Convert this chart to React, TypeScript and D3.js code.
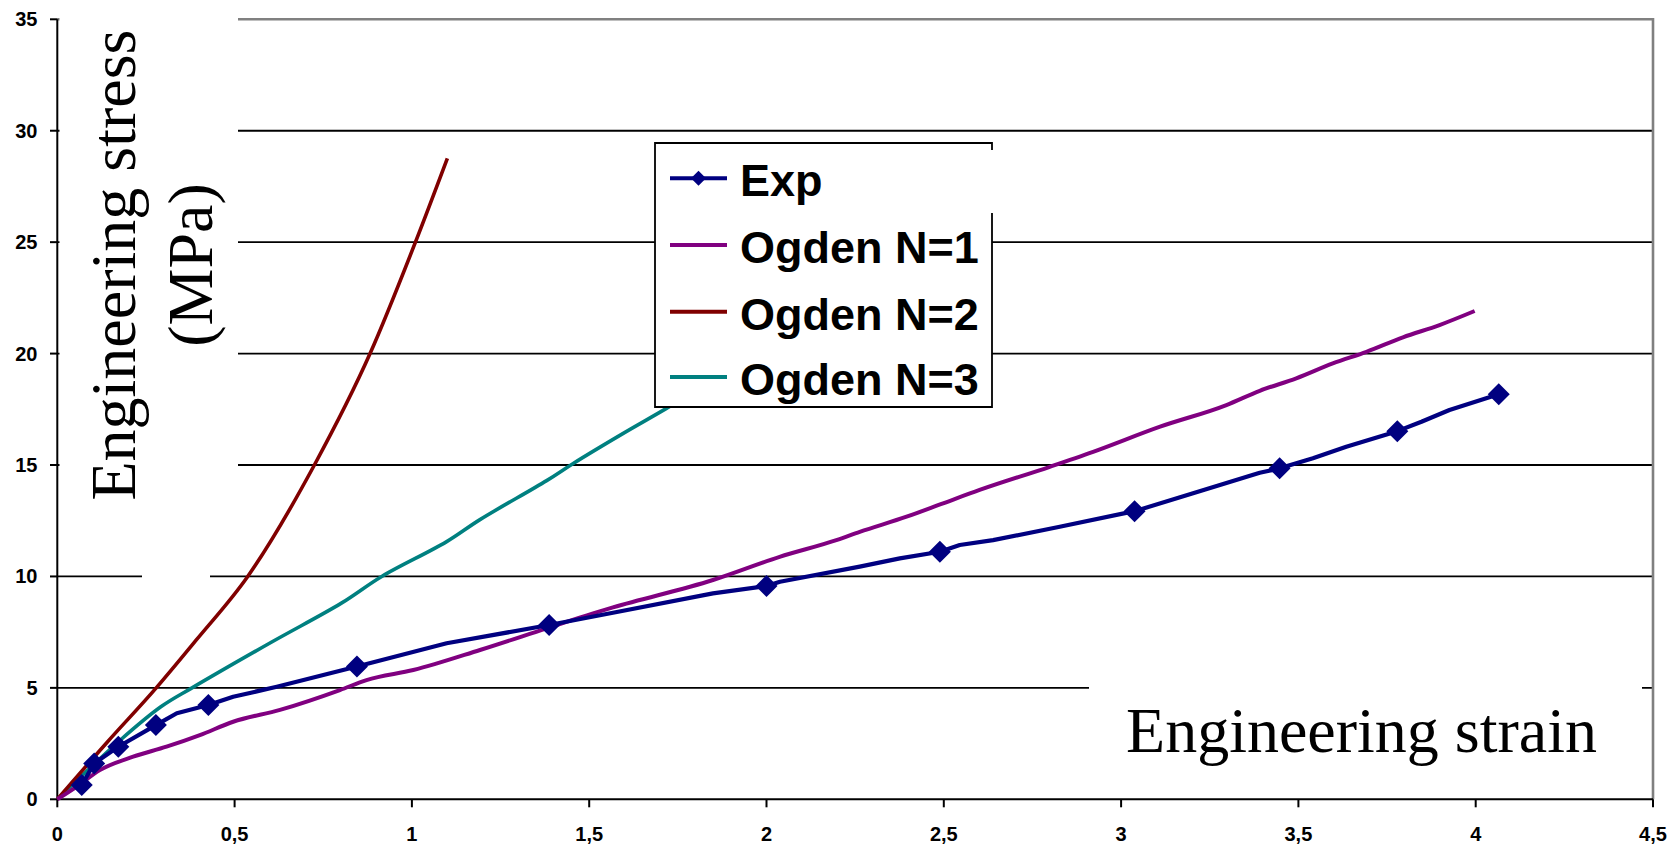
import React from "react";
import * as d3 from "d3";

type Pt = [number, number];

const xTicks = [0, 0.5, 1, 1.5, 2, 2.5, 3, 3.5, 4, 4.5];
const yTicks = [0, 5, 10, 15, 20, 25, 30, 35];
const xTickLabels = ["0", "0,5", "1", "1,5", "2", "2,5", "3", "3,5", "4", "4,5"];
const yTickLabels = ["0", "5", "10", "15", "20", "25", "30", "35"];

const seriesNames = ["Exp", "Ogden N=1", "Ogden N=2", "Ogden N=3"];
const seriesColors = ["#000080", "#800080", "#800000", "#008080"];

const expMarkers: Pt[] = [
  [0.069, 0.64], [0.104, 1.61], [0.172, 2.36], [0.278, 3.33], [0.426, 4.23],
  [0.845, 5.96], [1.387, 7.82], [2.0, 9.57], [2.489, 11.11], [3.038, 12.93],
  [3.447, 14.85], [3.779, 16.52], [4.065, 18.18],
];

const expCurve: Pt[] = [
  [0.069, 0.64], [0.104, 1.61], [0.172, 2.36], [0.278, 3.33], [0.337, 3.86], [0.426, 4.23],
  [0.496, 4.6], [0.619, 5.05], [0.845, 5.96], [1.098, 7.0], [1.387, 7.82], [1.567, 8.37],
  [1.849, 9.24], [2.0, 9.57], [2.038, 9.76], [2.263, 10.44], [2.376, 10.81], [2.489, 11.11],
  [2.545, 11.41], [2.639, 11.63], [2.827, 12.23], [3.038, 12.93], [3.203, 13.73], [3.391, 14.65],
  [3.447, 14.85], [3.541, 15.3], [3.635, 15.82], [3.779, 16.52], [3.847, 16.94], [3.926, 17.47],
  [4.065, 18.18],
];

const ogden1: Pt[] = [
  [0, 0], [0.055, 0.57], [0.12, 1.31], [0.214, 1.91], [0.308, 2.36], [0.402, 2.88],
  [0.496, 3.48], [0.628, 4.01], [0.797, 4.9], [0.872, 5.35], [1.004, 5.8], [1.192, 6.7],
  [1.38, 7.67], [1.511, 8.34], [1.567, 8.61], [1.849, 9.84], [2.037, 10.88], [2.197, 11.63],
  [2.263, 12.0], [2.395, 12.68], [2.498, 13.28], [2.601, 13.88], [2.799, 14.92], [2.921, 15.59],
  [3.11, 16.72], [3.297, 17.69], [3.391, 18.33], [3.494, 18.89], [3.597, 19.56], [3.692, 20.08],
  [3.795, 20.73], [3.898, 21.28], [3.997, 21.91],
];

const ogden2: Pt[] = [
  [0, 0], [0.14, 2.55], [0.279, 5.0], [0.392, 7.15], [0.537, 10.0], [0.725, 15.0],
  [0.882, 20.0], [1.01, 25.0], [1.1, 28.76],
];

const ogden3: Pt[] = [
  [0, 0], [0.178, 2.66], [0.292, 4.15], [0.38, 5.0], [0.606, 7.07], [0.8, 8.79],
  [0.915, 10.0], [1.097, 11.55], [1.192, 12.55], [1.38, 14.3], [1.455, 15.07], [1.596, 16.42],
  [1.718, 17.54], [1.85, 18.8],
];

const W = 1679;
const H = 845;

export default function App() {
  const x = d3.scaleLinear().domain([0, 4.5]).range([57.3, 1653]);
  const y = d3.scaleLinear().domain([0, 35]).range([799.3, 19.3]);

  const mono = d3
    .line<Pt>()
    .x((d) => x(d[0]))
    .y((d) => y(d[1]))
    .curve(d3.curveMonotoneX);
  const smooth = d3
    .line<Pt>()
    .x((d) => x(d[0]))
    .y((d) => y(d[1]))
    .curve(d3.curveCatmullRom.alpha(0.5));
  const straight = d3
    .line<Pt>()
    .x((d) => x(d[0]))
    .y((d) => y(d[1]))
    .curve(d3.curveLinear);

  const diamond = (cx: number, cy: number, r: number) =>
    `M${cx},${cy - r}L${cx + r},${cy}L${cx},${cy + r}L${cx - r},${cy}Z`;

  const legendRows = [178.3, 245, 311.7, 377];
  const lgX0 = 655, lgY0 = 143, lgX1 = 992, lgY1 = 407;

  return (
    <div style={{ position: "fixed", left: 0, top: 0 }}>
      <svg width={W} height={H} style={{ display: "block", background: "#fff" }}>
        {/* gridlines */}
        {yTicks.map((t, i) =>
          t === 0 ? null : (
            <line
              key={"g" + i}
              x1={x(0)}
              x2={x(4.5)}
              y1={y(t)}
              y2={y(t)}
              stroke={t === 35 ? "#808080" : "#000"}
              strokeWidth={t === 35 ? 2.6 : 1.8}
            />
          )
        )}
        {/* right border */}
        <line x1={x(4.5)} x2={x(4.5)} y1={y(35) - 1.3} y2={y(0)} stroke="#808080" strokeWidth={2.6} />

        {/* title backgrounds covering gridlines */}
        <rect x={59.5} y={8} width={178.5} height={545} fill="#fff" />
        <rect x={142} y={565} width={68} height={25} fill="#fff" />
        <rect x={1089} y={615} width={553} height={150} fill="#fff" />

        {/* axes */}
        <line x1={x(0)} x2={x(0)} y1={y(35)} y2={y(0)} stroke="#000" strokeWidth={2} />
        <line x1={x(0)} x2={x(4.5)} y1={y(0)} y2={y(0)} stroke="#000" strokeWidth={2} />
        {yTicks.map((t, i) => (
          <g key={"yt" + i}>
            <line x1={50} x2={x(0)} y1={y(t)} y2={y(t)} stroke="#000" strokeWidth={2} />
            <text
              x={37.5}
              y={y(t) + 7}
              textAnchor="end"
              fontFamily="'Liberation Sans', Arial, sans-serif"
              fontWeight="bold"
              fontSize={20}
              fill="#000"
            >
              {yTickLabels[i]}
            </text>
          </g>
        ))}
        {xTicks.map((t, i) => (
          <g key={"xt" + i}>
            <line x1={x(t)} x2={x(t)} y1={y(0)} y2={y(0) + 8} stroke="#000" strokeWidth={2} />
            <text
              x={x(t)}
              y={841}
              textAnchor="middle"
              fontFamily="'Liberation Sans', Arial, sans-serif"
              fontWeight="bold"
              fontSize={20}
              fill="#000"
            >
              {xTickLabels[i]}
            </text>
          </g>
        ))}

        {/* series */}
        <path d={smooth(ogden3) || ""} fill="none" stroke={seriesColors[3]} strokeWidth={3.6} />
        <path d={mono(ogden2) || ""} fill="none" stroke={seriesColors[2]} strokeWidth={3.6} />
        <path d={mono(ogden1) || ""} fill="none" stroke={seriesColors[1]} strokeWidth={4} />
        <path d={straight(expCurve) || ""} fill="none" stroke={seriesColors[0]} strokeWidth={4.2} strokeLinejoin="round" />
        {expMarkers.map((p, i) => (
          <path key={"m" + i} d={diamond(x(p[0]), y(p[1]), 11)} fill={seriesColors[0]} />
        ))}

        {/* axis titles */}
        <g transform="translate(135,265) rotate(-90)">
          <text
            x={0}
            y={0}
            textAnchor="middle"
            fontFamily="'Liberation Serif', 'Times New Roman', serif"
            fontSize={64}
            fill="#000"
          >
            Engineering stress
          </text>
        </g>
        <g transform="translate(212,265) rotate(-90)">
          <text
            x={0}
            y={0}
            textAnchor="middle"
            fontFamily="'Liberation Serif', 'Times New Roman', serif"
            fontSize={64}
            fill="#000"
          >
            (MPa)
          </text>
        </g>
        <text
          x={1597}
          y={751.5}
          textAnchor="end"
          fontFamily="'Liberation Serif', 'Times New Roman', serif"
          fontSize={64}
          fill="#000"
        >
          Engineering strain
        </text>

        {/* legend */}
        <rect x={lgX0} y={lgY0} width={lgX1 - lgX0} height={lgY1 - lgY0} fill="#fff" />
        <path
          d={`M${lgX1},150L${lgX1},${lgY0}L${lgX0},${lgY0}L${lgX0},${lgY1}L${lgX1},${lgY1}L${lgX1},213`}
          fill="none"
          stroke="#000"
          strokeWidth={1.8}
        />
        {seriesNames.map((name, i) => (
          <g key={"lg" + i}>
            <line
              x1={670}
              x2={727}
              y1={legendRows[i]}
              y2={legendRows[i]}
              stroke={seriesColors[i]}
              strokeWidth={4}
            />
            {i === 0 && <path d={diamond(698.5, legendRows[i], 7.5)} fill={seriesColors[0]} />}
            <text
              x={740}
              y={legendRows[i] + 18}
              fontFamily="'Liberation Sans', Arial, sans-serif"
              fontWeight="bold"
              fontSize={45}
              fill="#000"
            >
              {name}
            </text>
          </g>
        ))}
      </svg>
    </div>
  );
}
